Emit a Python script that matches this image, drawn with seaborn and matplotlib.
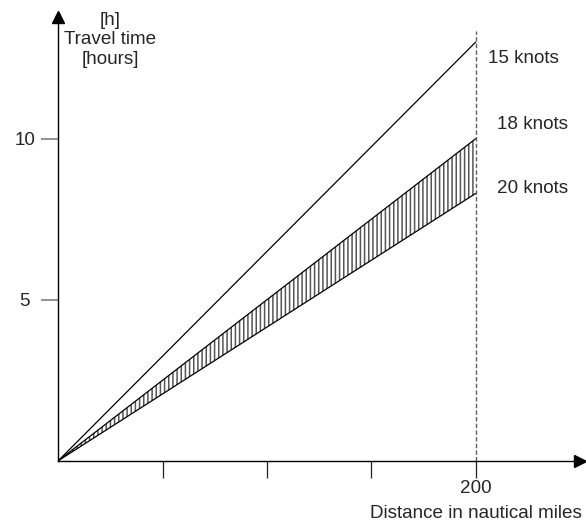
import matplotlib
matplotlib.use("Agg")
import matplotlib.pyplot as plt
import seaborn as sns
import pandas as pd

# ---- data ----
distance = [0, 200]
speed_labels = ["15 knots", "18 knots", "20 knots"]
time_15 = [0, 13.0]
time_18 = [0, 10.0]
time_20 = [0, 8.3]
x_ticks = [50, 100, 150, 200]
x_tick_labels = ["", "", "", "200"]
y_ticks = [5, 10]
y_tick_labels = ["5", "10"]

sns.set_theme(style="white")
plt.rcParams['font.family'] = ['Liberation Sans', 'DejaVu Sans']
plt.rcParams['hatch.linewidth'] = 1.1

fig = plt.figure(figsize=(5.86, 5.25), dpi=100)
ax = fig.add_axes([58.3 / 586, (525 - 460.7) / 525, 521.7 / 586, (460.7 - 17) / 525])

df = pd.DataFrame({
    "distance": distance * 3,
    "time": time_15 + time_18 + time_20,
    "speed": [s for s in speed_labels for _ in distance],
})

for s in speed_labels:
    sub = df[df["speed"] == s]
    sns.lineplot(data=sub, x="distance", y="time", color="black", lw=0.9, ax=ax)

ax.fill_between(distance, time_20, time_18, facecolor="none", edgecolor="#555555",
                hatch="||||", linewidth=0)

ax.vlines(200, 0, 13.35, colors="#606060", linestyles=(0, (3.2, 1.6)), lw=1.0)

fs = 13.6
ax.text(205.7, 12.5, speed_labels[0], fontsize=fs, va="center", ha="left")
ax.text(210.2, 10.45, speed_labels[1], fontsize=fs, va="center", ha="left")
ax.text(210.2, 8.45, speed_labels[2], fontsize=fs, va="center", ha="left")

ax.set_xlim(0, 250)
ax.set_ylim(0, 13.78)

for sp in ["top", "right"]:
    ax.spines[sp].set_visible(False)
for sp in ["left", "bottom"]:
    ax.spines[sp].set_color("black")
    ax.spines[sp].set_linewidth(1.0)

ax.set_xticks(x_ticks)
ax.set_xticklabels(x_tick_labels, fontsize=fs)
ax.set_yticks(y_ticks)
ax.set_yticklabels(y_tick_labels, fontsize=fs)
ax.tick_params(axis="x", direction="out", length=12.5, width=0.9, color="#202020", pad=1.5, bottom=True)
ax.tick_params(axis="y", direction="out", length=12.5, width=1.2, color="#808080", pad=11.5, left=True)
for lab in ax.get_yticklabels():
    lab.set_horizontalalignment("center")

ax.set_xlabel("Distance in nautical miles", fontsize=fs, va="center")
ax.xaxis.set_label_coords((476 - 58.3) / 521.7, (460.7 - 514) / 443.7)
ax.set_ylabel("[h]\nTravel time\n[hours]", fontsize=fs, rotation=0, ha="center", va="center",
              linespacing=1.17)
ax.yaxis.set_label_coords((110 - 58.3) / 521.7, (460.7 - 40) / 443.7)

# axis arrows
ax.plot([1], [0], marker=">", color="black", markersize=8.6, transform=ax.transAxes, clip_on=False)
ax.plot([0], [1], marker="^", color="black", markersize=8.6, transform=ax.transAxes, clip_on=False)

fig.savefig("out.png", dpi=100)
